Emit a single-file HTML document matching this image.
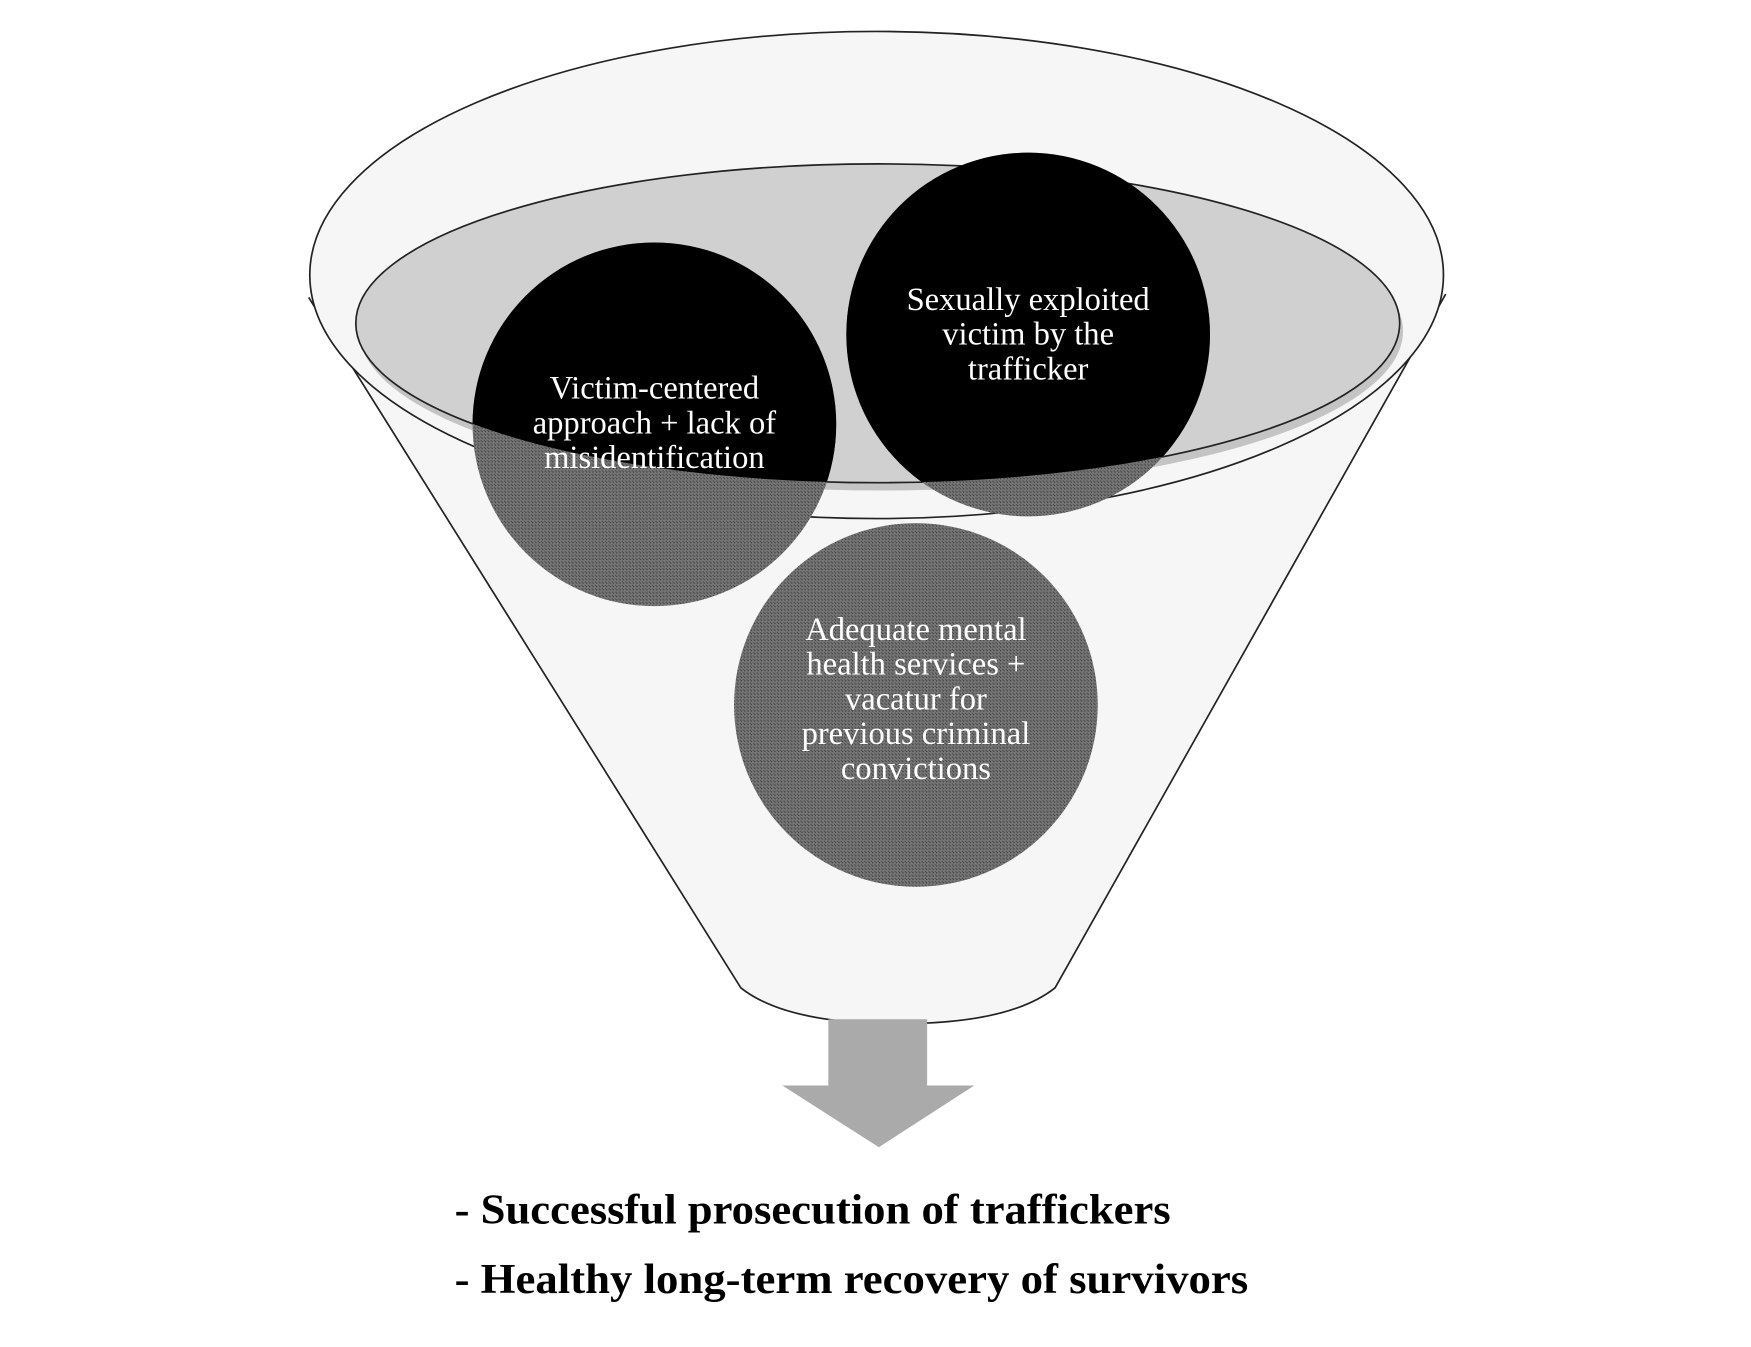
<!DOCTYPE html>
<html><head><style>html,body{margin:0;padding:0;background:#fff;}svg{display:block}</style></head>
<body>
<svg width="1751" height="1347" viewBox="0 0 1560 1200" preserveAspectRatio="none" xmlns="http://www.w3.org/2000/svg">
<defs>
<clipPath id="top"><ellipse cx="782" cy="288" rx="465" ry="142"/><rect x="0" y="0" width="1560" height="200"/></clipPath>
<pattern id="dots" width="3" height="3" patternUnits="userSpaceOnUse"><rect width="3" height="3" fill="#777"/><rect width="1" height="1" fill="#333"/><rect x="2" y="2" width="1" height="1" fill="#444"/></pattern>
</defs>
<path d="M275,265 L660,880 Q700,912 800,912 Q900,912 940,880 L1288,262" fill="#f6f6f6" stroke="#222" stroke-width="1.5"/>
<ellipse cx="781" cy="245" rx="505" ry="217" fill="#f6f6f6" stroke="#222" stroke-width="1.5"/>
<ellipse cx="785" cy="295" rx="465" ry="142" fill="#c4c4c4"/>
<ellipse cx="782" cy="288" rx="465" ry="142" fill="#d0d0d0" stroke="#222" stroke-width="1.5"/>
<circle cx="583" cy="378" r="162" fill="url(#dots)"/>
<circle cx="916" cy="298" r="162" fill="url(#dots)"/>
<circle cx="816" cy="628" r="162" fill="url(#dots)"/>
<g clip-path="url(#top)">
<circle cx="583" cy="378" r="162" fill="#000"/>
<circle cx="916" cy="298" r="162" fill="#000"/>
</g>
<path d="M738,908 H826 V967 H868 L783,1022 L697,967 H738 Z" fill="#aaa"/>
<g font-family="Liberation Serif, serif" font-size="29" fill="#fff" text-anchor="middle">
<text x="583" y="355">Victim-centered</text>
<text x="583" y="386">approach + lack of</text>
<text x="583" y="417">misidentification</text>
<text x="916" y="276">Sexually exploited</text>
<text x="916" y="307">victim by the</text>
<text x="916" y="338">trafficker</text>
<text x="816" y="570">Adequate mental</text>
<text x="816" y="601">health services +</text>
<text x="816" y="632">vacatur for</text>
<text x="816" y="663">previous criminal</text>
<text x="816" y="694">convictions</text>
</g>
<g font-family="Liberation Serif, serif" font-size="38" font-weight="bold" fill="#000">
<text x="405" y="1090" textLength="638" lengthAdjust="spacingAndGlyphs">- Successful prosecution of traffickers</text>
<text x="405" y="1152" textLength="707" lengthAdjust="spacingAndGlyphs">- Healthy long-term recovery of survivors</text>
</g>
</svg>
</body></html>
